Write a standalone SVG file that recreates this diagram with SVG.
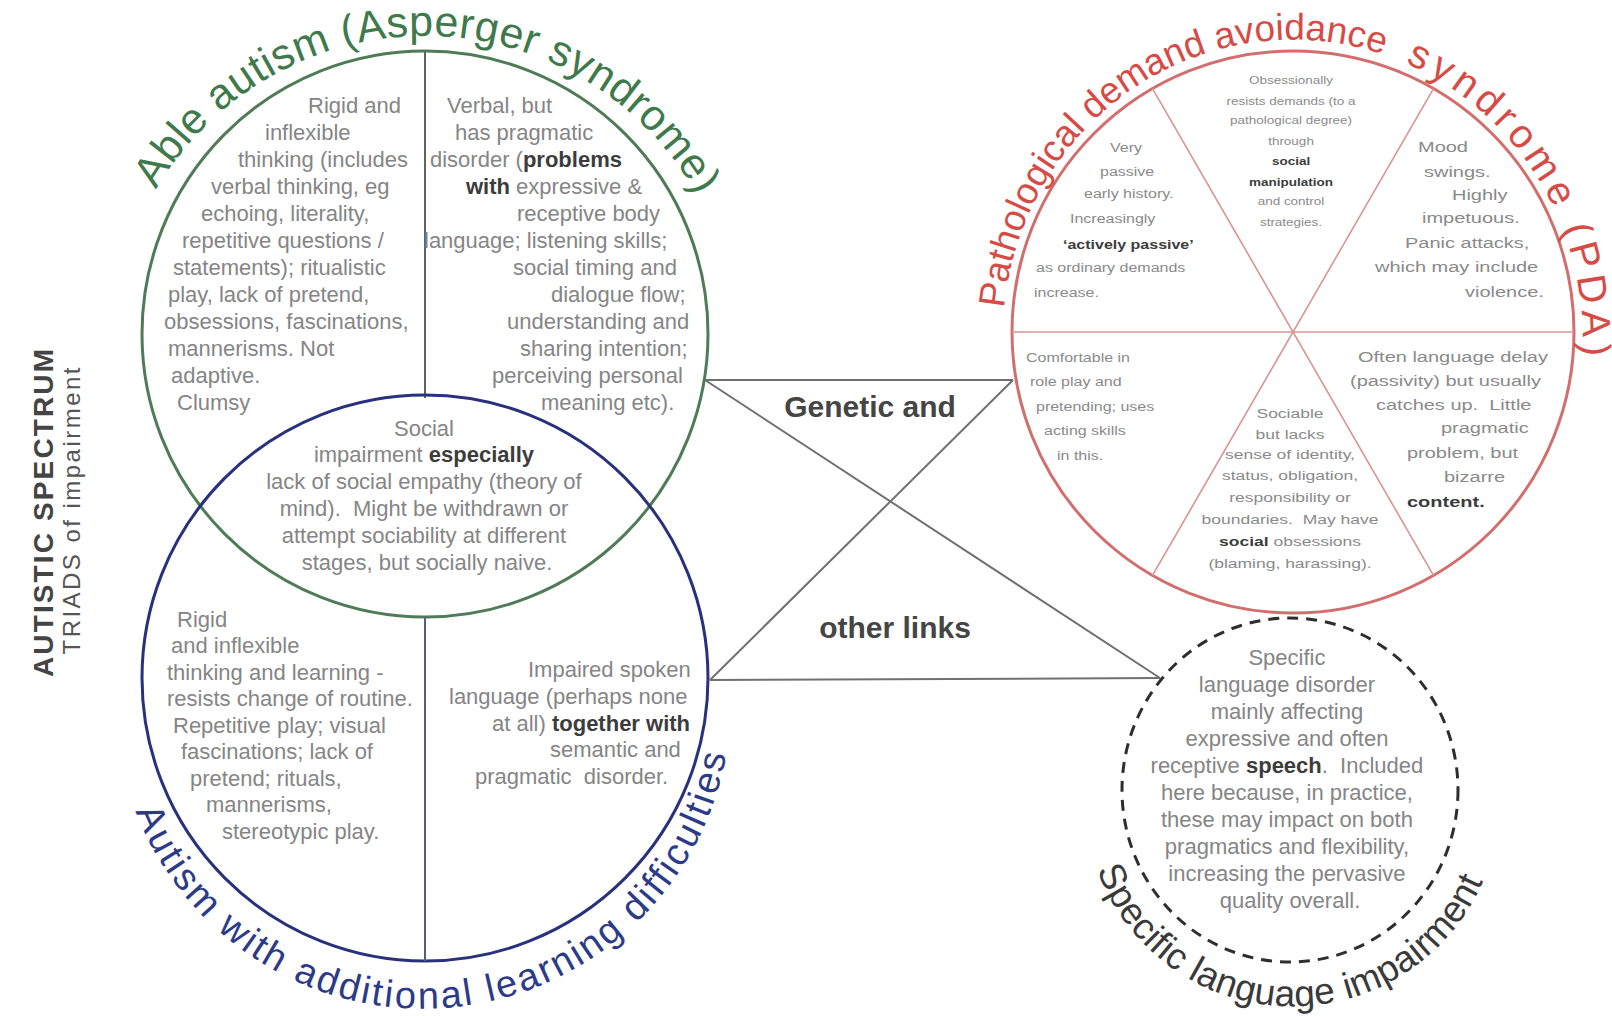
<svg xmlns="http://www.w3.org/2000/svg" width="1612" height="1016" viewBox="0 0 1612 1016">
<style>
.t{font-family:"Liberation Sans",Arial,sans-serif;fill:#858585;}
.g22{font-size:22px;}
.rs{font-family:"Liberation Sans",Arial,sans-serif;fill:#8a8a8a;font-size:20px;}
.rn{font-family:"Liberation Sans",Arial,sans-serif;fill:#8a8a8a;font-size:16px;}
.rm{font-family:"Liberation Sans",Arial,sans-serif;fill:#8a8a8a;font-size:17.5px;text-anchor:middle;}
.rt{font-family:"Liberation Sans",Arial,sans-serif;fill:#8a8a8a;font-size:13.5px;text-anchor:middle;}
.b{font-weight:bold;fill:#3c3c3c;}
.mid{text-anchor:middle;}
.title{font-family:"Liberation Sans",Arial,sans-serif;}
.conn{stroke:#707070;stroke-width:2;fill:none;}
</style>
<defs>
<path id="arcGreen" d="M156.1,189.6 A312,312 0 0,1 699.7,200.1"/>
<path id="arcRed" d="M1004,308.2 A290,298 0 0,1 1582.1,354.8"/>
<path id="arcBlue" d="M135.6,811.3 A308,308 0 0,0 728,744"/>
<path id="arcSli" d="M1097,870 A208,208 0 0,0 1490,863"/>
</defs>
<rect width="1612" height="1016" fill="#ffffff"/>

<g id="connectors">
<line class="conn" x1="705" y1="380" x2="1013" y2="380"/>
<line class="conn" x1="710" y1="680" x2="1160" y2="678"/>
<line class="conn" x1="705" y1="380" x2="1160" y2="678"/>
<line class="conn" x1="710" y1="680" x2="1013" y2="380"/>
</g>

<g id="link-labels">
<text class="title" x="870" y="417" font-size="30" font-weight="bold" fill="#454545" text-anchor="middle">Genetic and</text>
<text class="title" x="895" y="638" font-size="30" font-weight="bold" fill="#454545" text-anchor="middle">other links</text>
</g>

<g id="node-able-autism">
<circle cx="425" cy="334" r="283" fill="none" stroke="#4f7c57" stroke-width="3"/>
<line x1="425" y1="51" x2="425" y2="398" stroke="#56695a" stroke-width="2"/>
<text class="title" font-size="43" fill="#3f7a4c"><textPath href="#arcGreen" textLength="655">Able autism (Asperger syndrome)</textPath></text>
<text class="t g22">
<tspan x="308" y="113">Rigid and</tspan>
<tspan x="265" y="140">inflexible</tspan>
<tspan x="238" y="167">thinking (includes</tspan>
<tspan x="211" y="194">verbal thinking, eg</tspan>
<tspan x="201" y="221">echoing, literality,</tspan>
<tspan x="182" y="248">repetitive questions /</tspan>
<tspan x="173" y="275">statements); ritualistic</tspan>
<tspan x="168" y="302">play, lack of pretend,</tspan>
<tspan x="164" y="329">obsessions, fascinations,</tspan>
<tspan x="168" y="356">mannerisms. Not</tspan>
<tspan x="171" y="383">adaptive.</tspan>
<tspan x="177" y="410">Clumsy</tspan>
</text>
<text class="t g22">
<tspan x="447" y="113">Verbal, but</tspan>
<tspan x="455" y="140">has pragmatic</tspan>
<tspan x="430" y="167">disorder (<tspan class="b">problems</tspan></tspan>
<tspan x="466" y="194"><tspan class="b">with</tspan> expressive &amp;</tspan>
<tspan x="517" y="221">receptive body</tspan>
<tspan x="424" y="248">language; listening skills;</tspan>
<tspan x="513" y="275">social timing and</tspan>
<tspan x="551" y="302">dialogue flow;</tspan>
<tspan x="507" y="329">understanding and</tspan>
<tspan x="520" y="356">sharing intention;</tspan>
<tspan x="492" y="383">perceiving personal</tspan>
<tspan x="541" y="410">meaning etc).</tspan>
</text>
<text class="t g22 mid">
<tspan x="427" y="436">Social</tspan>
<tspan x="427" y="462">impairment <tspan class="b">especially</tspan></tspan>
<tspan x="427" y="489">lack of social empathy (theory of</tspan>
<tspan x="427" y="516">mind).&#160; Might be withdrawn or</tspan>
<tspan x="427" y="543">attempt sociability at different</tspan>
<tspan x="427" y="570">stages, but socially naive.</tspan>
</text>
</g>

<g id="node-autism-ld">
<circle cx="425" cy="678" r="283" fill="none" stroke="#28317c" stroke-width="3"/>
<line x1="425" y1="617" x2="425" y2="961" stroke="#56607a" stroke-width="2"/>
<text class="title" font-size="38" fill="#2c3a8a"><textPath href="#arcBlue" textLength="800">Autism with additional learning difficulties</textPath></text>
<text class="t g22">
<tspan x="177" y="627">Rigid</tspan>
<tspan x="171" y="653">and inflexible</tspan>
<tspan x="167" y="680">thinking and learning -</tspan>
<tspan x="167" y="706">resists change of routine.</tspan>
<tspan x="173" y="733">Repetitive play; visual</tspan>
<tspan x="181" y="759">fascinations; lack of</tspan>
<tspan x="190" y="786">pretend; rituals,</tspan>
<tspan x="206" y="812">mannerisms,</tspan>
<tspan x="222" y="839">stereotypic play.</tspan>
</text>
<text class="t g22">
<tspan x="528" y="677">Impaired spoken</tspan>
<tspan x="449" y="704">language (perhaps none</tspan>
<tspan x="492" y="731">at all) <tspan class="b">together with</tspan></tspan>
<tspan x="550" y="757">semantic and</tspan>
<tspan x="475" y="784">pragmatic&#160; disorder.</tspan>
</text>
</g>

<g id="node-pda">
<circle cx="1293" cy="332" r="281" fill="none" stroke="#d26e6e" stroke-width="3"/>
<g stroke="#d99494" stroke-width="1.6">
<line x1="1012" y1="332" x2="1574" y2="332"/>
<line x1="1152.5" y1="88.6" x2="1433.5" y2="575.4"/>
<line x1="1433.5" y1="88.6" x2="1152.5" y2="575.4"/>
</g>
<text class="title" fill="#d64b45"><textPath href="#arcRed"><tspan font-size="37">Pathological demand avoidance</tspan></textPath></text>
<text class="title" fill="#d64b45"><textPath href="#arcRed" startOffset="548" textLength="364"><tspan font-size="40">syndrome (PDA)</tspan></textPath></text>
<g id="pda-passive">
<text class="rn" transform="translate(1110,152) scale(1,0.82)">Very</text>
<text class="rn" transform="translate(1100,176) scale(1,0.82)">passive</text>
<text class="rn" transform="translate(1084,198) scale(1,0.82)">early history.</text>
<text class="rn" transform="translate(1070,223) scale(1,0.82)">Increasingly</text>
<text class="rn b" transform="translate(1063,249) scale(1,0.82)">‘actively passive’</text>
<text class="rn" transform="translate(1036,272) scale(1,0.82)">as ordinary demands</text>
<text class="rn" transform="translate(1034,297) scale(1,0.82)">increase.</text>
</g>
<g id="pda-manipulation">
<text class="rt" transform="translate(1291,84) scale(1,0.85)">Obsessionally</text>
<text class="rt" transform="translate(1291,105) scale(1,0.85)">resists demands (to a</text>
<text class="rt" transform="translate(1291,124) scale(1,0.85)">pathological degree)</text>
<text class="rt" transform="translate(1291,145) scale(1,0.85)">through</text>
<text class="rt b" transform="translate(1291,165) scale(1,0.85)">social</text>
<text class="rt b" transform="translate(1291,186) scale(1,0.85)">manipulation</text>
<text class="rt" transform="translate(1291,205) scale(1,0.85)">and control</text>
<text class="rt" transform="translate(1291,226) scale(1,0.85)">strategies.</text>
</g>
<g id="pda-mood">
<text class="rs" transform="translate(1418,152) scale(1,0.75)">Mood</text>
<text class="rs" transform="translate(1424,177) scale(1,0.75)">swings.</text>
<text class="rs" transform="translate(1452,200) scale(1,0.75)">Highly</text>
<text class="rs" transform="translate(1422,223) scale(1,0.75)">impetuous.</text>
<text class="rs" transform="translate(1405,248) scale(1,0.75)">Panic attacks,</text>
<text class="rs" transform="translate(1375,272) scale(1,0.75)">which may include</text>
<text class="rs" transform="translate(1465,297) scale(1,0.75)">violence.</text>
</g>
<g id="pda-roleplay">
<text class="rn" transform="translate(1026,362) scale(1,0.82)">Comfortable in</text>
<text class="rn" transform="translate(1030,386) scale(1,0.82)">role play and</text>
<text class="rn" transform="translate(1036,411) scale(1,0.82)">pretending; uses</text>
<text class="rn" transform="translate(1044,435) scale(1,0.82)">acting skills</text>
<text class="rn" transform="translate(1057,460) scale(1,0.82)">in this.</text>
</g>
<g id="pda-sociable">
<text class="rm" transform="translate(1290,418) scale(1,0.75)">Sociable</text>
<text class="rm" transform="translate(1290,439) scale(1,0.75)">but lacks</text>
<text class="rm" transform="translate(1290,459) scale(1,0.75)">sense of identity,</text>
<text class="rm" transform="translate(1290,480) scale(1,0.75)">status, obligation,</text>
<text class="rm" transform="translate(1290,502) scale(1,0.75)">responsibility or</text>
<text class="rm" transform="translate(1290,524) scale(1,0.75)">boundaries.&#160; May have</text>
<text class="rm" transform="translate(1290,546) scale(1,0.75)"><tspan class="b">social</tspan> obsessions</text>
<text class="rm" transform="translate(1290,568) scale(1,0.75)">(blaming, harassing).</text>
</g>
<g id="pda-language">
<text class="rs" transform="translate(1358,362) scale(1,0.75)">Often language delay</text>
<text class="rs" transform="translate(1350,386) scale(1,0.75)">(passivity) but usually</text>
<text class="rs" transform="translate(1376,410) scale(1,0.75)">catches up.&#160; Little</text>
<text class="rs" transform="translate(1441,433) scale(1,0.75)">pragmatic</text>
<text class="rs" transform="translate(1407,458) scale(1,0.75)">problem, but</text>
<text class="rs" transform="translate(1444,482) scale(1,0.75)">bizarre</text>
<text class="rs b" transform="translate(1407,507) scale(1,0.75)">content.</text>
</g>
</g>

<g id="node-sli">
<ellipse cx="1290" cy="790" rx="168" ry="172" fill="none" stroke="#2e2e2e" stroke-width="3" stroke-dasharray="11 8"/>
<text class="title" font-size="37" fill="#3a3a3a"><textPath href="#arcSli" textLength="495">Specific language impairment</textPath></text>
<text class="t g22 mid">
<tspan x="1290" y="665">Specific</tspan>
<tspan x="1290" y="692">language disorder</tspan>
<tspan x="1290" y="719">mainly affecting</tspan>
<tspan x="1290" y="746">expressive and often</tspan>
<tspan x="1290" y="773">receptive <tspan class="b">speech</tspan>.&#160; Included</tspan>
<tspan x="1290" y="800">here because, in practice,</tspan>
<tspan x="1290" y="827">these may impact on both</tspan>
<tspan x="1290" y="854">pragmatics and flexibility,</tspan>
<tspan x="1290" y="881">increasing the pervasive</tspan>
<tspan x="1290" y="908">quality overall.</tspan>
</text>
</g>

<g id="label-spectrum">
<text class="title" transform="translate(53,513) rotate(-90)" font-size="28" font-weight="bold" fill="#444" text-anchor="middle" textLength="328">AUTISTIC SPECTRUM</text>
<text class="title" transform="translate(80,511) rotate(-90)" font-size="24" fill="#555" text-anchor="middle" textLength="287">TRIADS of impairment</text>
</g>
</svg>
